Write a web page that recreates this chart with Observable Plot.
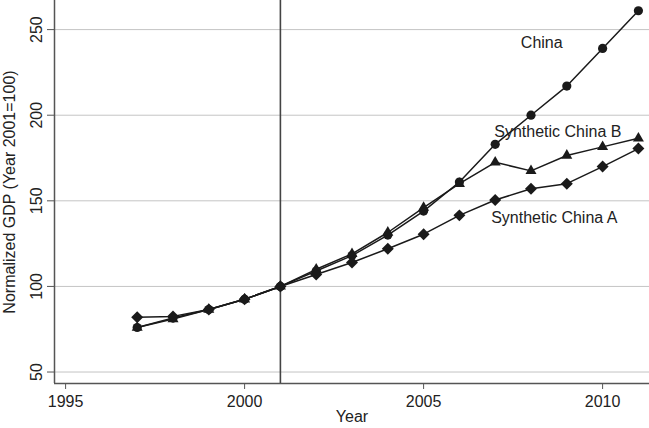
<!DOCTYPE html>
<html>
<head>
<meta charset="utf-8">
<script src="https://cdn.jsdelivr.net/npm/d3@7"></script>
<script src="https://cdn.jsdelivr.net/npm/@observablehq/plot@0.6"></script>
<style>
  html, body { margin: 0; padding: 0; background: #fff; }
  #chart svg { display: block; }
</style>
</head>
<body>
<div id="chart"></div>
<script>
const years = [1997, 1998, 1999, 2000, 2001, 2002, 2003, 2004, 2005, 2006, 2007, 2008, 2009, 2010, 2011];
const china = [76, 81.5, 86.5, 92.5, 100, 109, 118, 130, 144, 161, 183, 200, 217, 239, 261];
const syntheticB = [76, 81, 86.5, 92.5, 100, 110, 119, 131.5, 146, 160, 172.5, 167.5, 176.5, 181.5, 186.5];
const syntheticA = [82, 82.5, 86.5, 92.5, 100, 107, 114, 122, 130.5, 141.5, 150.5, 157, 160, 170, 180.5];
const yTicks = [50, 100, 150, 200, 250];
const xTicks = [1995, 2000, 2005, 2010];
const treatmentYear = 2001;
const seriesLabels = [
  {name: "China", x: 2008.3, y: 242},
  {name: "Synthetic China B", x: 2008.75, y: 190},
  {name: "Synthetic China A", x: 2008.65, y: 140.3}
];

const xDomain = [1994.69, 2011.31];
const yDomain = [43.3, 267];

const toRows = (vals) => years.map((yr, i) => ({year: yr, value: vals[i]}));
const chinaRows = toRows(china);
const bRows = toRows(syntheticB);
const aRows = toRows(syntheticA);

const ink = "#1a1a1a";
const chart = Plot.plot({
  width: 649,
  height: 428,
  marginLeft: 54,
  marginRight: 0,
  marginTop: 0,
  marginBottom: 45,
  style: {fontFamily: "'Liberation Sans', Arial, sans-serif", fontSize: "16px", color: "#222", background: "#fff", overflow: "visible"},
  x: {domain: xDomain},
  y: {domain: yDomain},
  marks: [
    Plot.ruleY(yTicks, {stroke: "#c4c4c4", strokeWidth: 1}),
    Plot.ruleX([xDomain[0]], {stroke: "#555", strokeWidth: 1.5}),
    Plot.ruleY([yDomain[0]], {stroke: "#555", strokeWidth: 1.5}),
    Plot.ruleX([treatmentYear], {stroke: "#444", strokeWidth: 1.6}),
    Plot.axisY({ticks: yTicks, tickSize: 7, tickPadding: 6, tickRotate: -90, stroke: "#555", fill: "#222", label: null}),
    Plot.axisX({ticks: xTicks, tickSize: 6, tickPadding: 6, stroke: "#555", fill: "#222", label: null, tickFormat: d => String(d)}),
    Plot.line(chinaRows, {x: "year", y: "value", stroke: ink, strokeWidth: 1.5}),
    Plot.line(bRows, {x: "year", y: "value", stroke: ink, strokeWidth: 1.5}),
    Plot.line(aRows, {x: "year", y: "value", stroke: ink, strokeWidth: 1.5}),
    Plot.dot(chinaRows, {x: "year", y: "value", symbol: "circle", r: 4.6, fill: ink, stroke: null}),
    Plot.dot(bRows, {x: "year", y: "value", symbol: "triangle", r: 4.1, fill: ink, stroke: null}),
    Plot.dot(aRows, {x: "year", y: "value", symbol: "diamond2", r: 5.4, fill: ink, stroke: null}),
    Plot.text(seriesLabels, {x: "x", y: "y", text: "name", fill: "#222", fontSize: 16, textAnchor: "middle"}),
    Plot.text(["Year"], {frameAnchor: "bottom", dy: 38, fill: "#222", fontSize: 16}),
    Plot.text(["Normalized GDP (Year 2001=100)"], {frameAnchor: "left", dx: -45, rotate: -90, textAnchor: "middle", fill: "#222", fontSize: 16})
  ]
});
document.getElementById("chart").appendChild(chart);
</script>
</body>
</html>
